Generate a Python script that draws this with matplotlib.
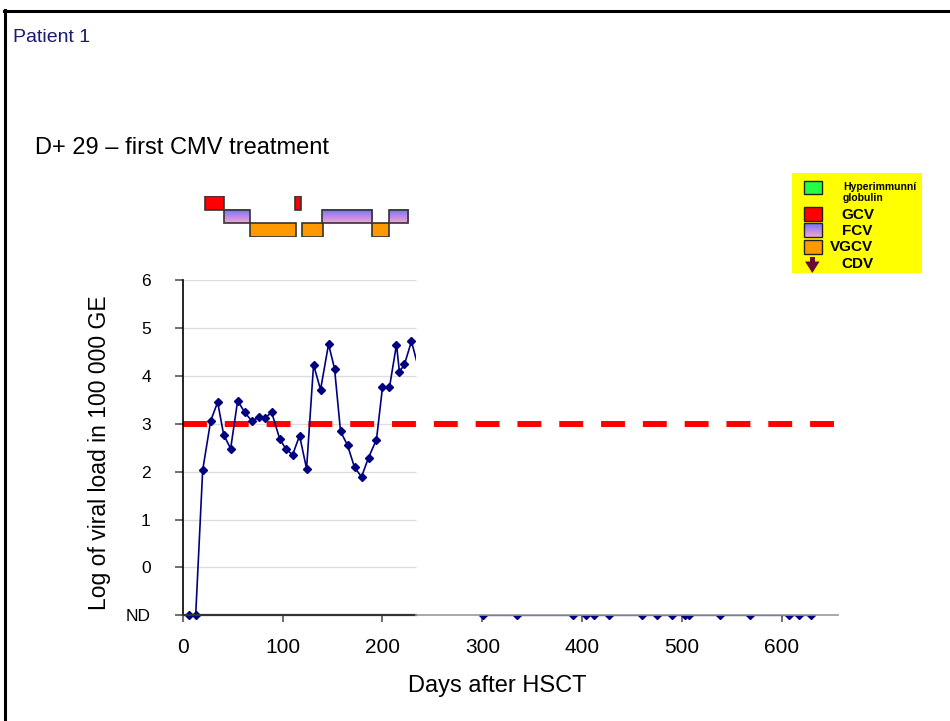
import numpy as np
import matplotlib
matplotlib.use("Agg")
import matplotlib.pyplot as plt
from matplotlib.patches import Rectangle, Polygon
from matplotlib.lines import Line2D
from matplotlib.path import Path

plt.rcParams['font.family'] = ['Liberation Sans', 'DejaVu Sans']

ND = -1  # "not detected" level

# viral load, days after HSCT
days = [6, 13, 20, 28, 35, 41, 48, 55, 62, 69, 76, 82, 89, 97, 103, 110, 117,
        124, 131, 138, 146, 152, 158, 165, 172, 179, 186, 194, 200, 207, 214,
        217, 222, 229,
        301, 335, 391, 404, 412, 427, 460, 475, 490, 503, 507, 538, 568, 607,
        617, 629]
load = [ND, ND, 2.03, 3.06, 3.45, 2.77, 2.48, 3.48, 3.24, 3.06, 3.13, 3.11,
        3.24, 2.69, 2.48, 2.35, 2.75, 2.06, 4.23, 3.71, 4.66, 4.15, 2.84, 2.55,
        2.09, 1.89, 2.29, 2.67, 3.76, 3.76, 4.65, 4.08, 4.24, 4.72,
        ND, ND, ND, ND, ND, ND, ND, ND, ND, ND, ND, ND, ND, ND, ND, ND]
threshold = 3

yticks = [-1, 0, 1, 2, 3, 4, 5, 6]
ylabels = ['ND', '0', '1', '2', '3', '4', '5', '6']
xticks = [0, 100, 200, 300, 400, 500, 600]

# treatment periods (start, end) in days
gcv = [(22, 41.7), (112.5, 118.5)]
fcv = [(41.7, 67.7), (139, 189.3), (206.3, 226)]
vgcv = [(67.7, 113.8), (119.8, 140.2), (189.9, 206.3)]

legend_names = ['GCV', 'FCV', 'VGCV', 'CDV']

W, H = 950, 721
XMAX = 656
CUT = 234  # chart is cut off here

fig = plt.figure(figsize=(9.5, 7.21), dpi=100)
fig.patch.set_facecolor('white')


def px(x0, y0, x1, y1):
    # pixel box (top-left origin) -> figure fraction rect
    return [x0 / W, 1 - y1 / H, (x1 - x0) / W, (y1 - y0) / H]


ax = fig.add_axes(px(182.7, 280, 838, 615.3))
ax.set_xlim(0, XMAX)
ax.set_ylim(-1, 6)
for s in ['top', 'right', 'bottom']:
    ax.spines[s].set_visible(False)
ax.spines['left'].set_color('black')
ax.spines['left'].set_linewidth(1.2)

ax.set_yticks(yticks)
ax.set_yticklabels(ylabels)
ax.set_xticks(xticks)
ax.tick_params(axis='y', direction='out', length=6, width=1.2, colors='#555555',
               labelcolor='black', pad=17, labelsize=12.5)
ax.tick_params(axis='x', direction='out', length=5, width=1.2, colors='#555555',
               labelcolor='black', pad=11, labelsize=15)

ax.hlines(yticks[1:], 0, CUT, color='#dddddd', lw=1, zorder=0.5)
ax.axhline(ND, xmin=0, xmax=CUT / XMAX, color='#333333', lw=1.6, zorder=4, clip_on=False)
ax.axhline(ND, xmin=CUT / XMAX, xmax=1, color='#999999', lw=1.2, zorder=4, clip_on=False)

ax.axhline(threshold, color='#ff0000', lw=4.3, dashes=(4, 3),
           solid_capstyle='butt', dash_capstyle='butt', zorder=2)

line, = ax.plot(days, load, color='#000080', lw=1.2, marker='D', ms=3.8,
                mfc='#000080', mec='#000080', zorder=3)
clip = Path([(-50, -5), (700, -5), (700, ND), (CUT, ND), (CUT, 10), (-50, 10), (-50, -5)])
line.set_clip_box(None)
line.set_clip_path(clip, ax.transData)

fig.text(497 / W, 1 - 686 / H, 'Days after HSCT', ha='center', va='center', fontsize=17)
fig.text(100 / W, 1 - 453 / H, 'Log of viral load in 100 000 GE', ha='center',
         va='center', rotation=90, fontsize=16.5)
fig.text(13 / W, 1 - 38 / H, 'Patient 1', ha='left', va='center', fontsize=14,
         color='#1a1a70')
fig.text(35 / W, 1 - 148 / H, 'D+ 29 \u2013 first CMV treatment', ha='left',
         va='center', fontsize=17)

# gradient for FCV
top = np.array([0.45, 0.45, 1.0])
bot = np.array([0.96, 0.64, 0.82])
grad = np.linspace(0, 1, 32)[:, None, None] * (bot - top) + top
grad = np.repeat(grad, 2, axis=1)

# treatment bars, sharing the day scale
axb = fig.add_axes(px(182.7, 196, 838, 237), sharex=ax)
axb.axis('off')
for a, b in gcv:
    axb.add_patch(Rectangle((a, 2), b - a, 1, fc='#ff0000', ec='#333333', lw=1.2))
for a, b in vgcv:
    axb.add_patch(Rectangle((a, 0), b - a, 1, fc='#ff9900', ec='#333333', lw=1.2))
for a, b in fcv:
    axb.imshow(grad, extent=(a, b, 1, 2), aspect='auto', origin='upper',
               interpolation='bilinear', zorder=1)
    axb.add_patch(Rectangle((a, 1), b - a, 1, fc='none', ec='#333333', lw=1.2, zorder=2))
axb.set_ylim(0, 3)
ax.set_xlim(0, XMAX)

# legend box
axl = fig.add_axes(px(791.7, 173.3, 921.7, 273.3))
axl.set_xlim(791.7, 921.7)
axl.set_ylim(273.3, 173.3)
axl.set_facecolor('#ffff00')
axl.set_xticks([])
axl.set_yticks([])
for s in axl.spines.values():
    s.set_visible(False)

axl.add_patch(Rectangle((804, 180.7), 17.7, 13.6, fc='#22ff44', ec='#222222', lw=1))
axl.add_patch(Rectangle((804, 207.3), 17.7, 13.4, fc='#ff0000', ec='#222222', lw=1))
axl.imshow(grad, extent=(804, 821.7, 237.3, 223.3), aspect='auto', origin='upper',
           interpolation='bilinear', zorder=1)
axl.add_patch(Rectangle((804, 223.3), 17.7, 14, fc='none', ec='#222222', lw=1, zorder=2))
axl.add_patch(Rectangle((804, 240), 17.7, 14.3, fc='#ff9900', ec='#222222', lw=1))
axl.add_patch(Rectangle((809.8, 256.7), 5, 5, fc='#6a0a3a', ec='none'))
axl.add_patch(Polygon([(805, 261.5), (819.6, 261.5), (812.3, 273)], closed=True,
                      fc='#6a0a3a', ec='none'))
axl.set_xlim(791.7, 921.7)
axl.set_ylim(273.3, 173.3)

axl.text(843, 186.7, 'Hyperimmunní', fontsize=7.5, fontweight='bold', va='center')
axl.text(843, 198.3, 'globulin', fontsize=7.5, fontweight='bold', va='center')
axl.text(841, 215, legend_names[0], fontsize=11, fontweight='bold', va='center')
axl.text(841.7, 230.7, legend_names[1], fontsize=11, fontweight='bold', va='center')
axl.text(830, 246.7, legend_names[2], fontsize=11, fontweight='bold', va='center')
axl.text(841.7, 264, legend_names[3], fontsize=11, fontweight='bold', va='center')

# slide frame
fig.add_artist(Line2D([4.5 / W, 4.5 / W], [0, 1 - 9.5 / H], color='black', lw=2.2,
                      transform=fig.transFigure))
fig.add_artist(Line2D([3.5 / W, 1], [1 - 11 / H, 1 - 11 / H], color='black', lw=2.2,
                      transform=fig.transFigure))

fig.savefig('out.png', dpi=100)
